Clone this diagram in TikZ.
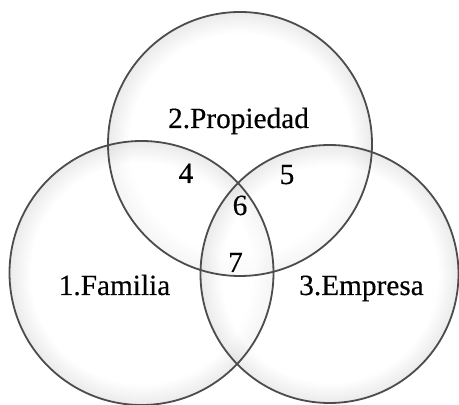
\documentclass[tikz,border=0pt]{standalone}
\usepackage{fontspec}
\setmainfont{Liberation Serif}[FakeBold=0.35]
\pgfdeclareradialshading{rimglow}{\pgfpoint{0bp}{0bp}}{color(0bp)=(white); color(21bp)=(white); color(25bp)=(black!16); color(50bp)=(black!16)}
\tikzset{
  set/.style={circle, inner sep=0pt, outer sep=0pt, shading=rimglow, fill opacity=0.5},
  rim/.style={draw=black!70, line width=1.8pt},
  lbl/.style={anchor=base, inner sep=0pt, font=\fontsize{29.3}{32}\selectfont}
}
\begin{document}
\begin{tikzpicture}[x=1pt,y=1pt]
			\useasboundingbox (0,0) rectangle (459,405);
			\node[set, minimum size=264pt](prop) at (240,261){};
			\node[set, minimum size=264pt](fam) at (141.5,132){};
			\node[set, minimum size=258pt](emp) at (329.5,131){};
			\draw[rim] (prop) circle (132pt);
			\draw[rim] (fam) circle (132pt);
			\draw[rim] (emp) circle (129pt);
			\node[lbl](lprop) at (238.5,277){2.Propiedad};
			\node[lbl](lfam) at (114.5,110){1.Familia};
			\node[lbl](lemp) at (361.5,110){3.Empresa};
			\node[lbl](z4) at (186,222){4};
			\node[lbl](z5) at (287,221){5};
			\node[lbl](z6) at (240,190){6};
			\node[lbl](z7) at (235.5,133){7};
\end{tikzpicture}
\end{document}
